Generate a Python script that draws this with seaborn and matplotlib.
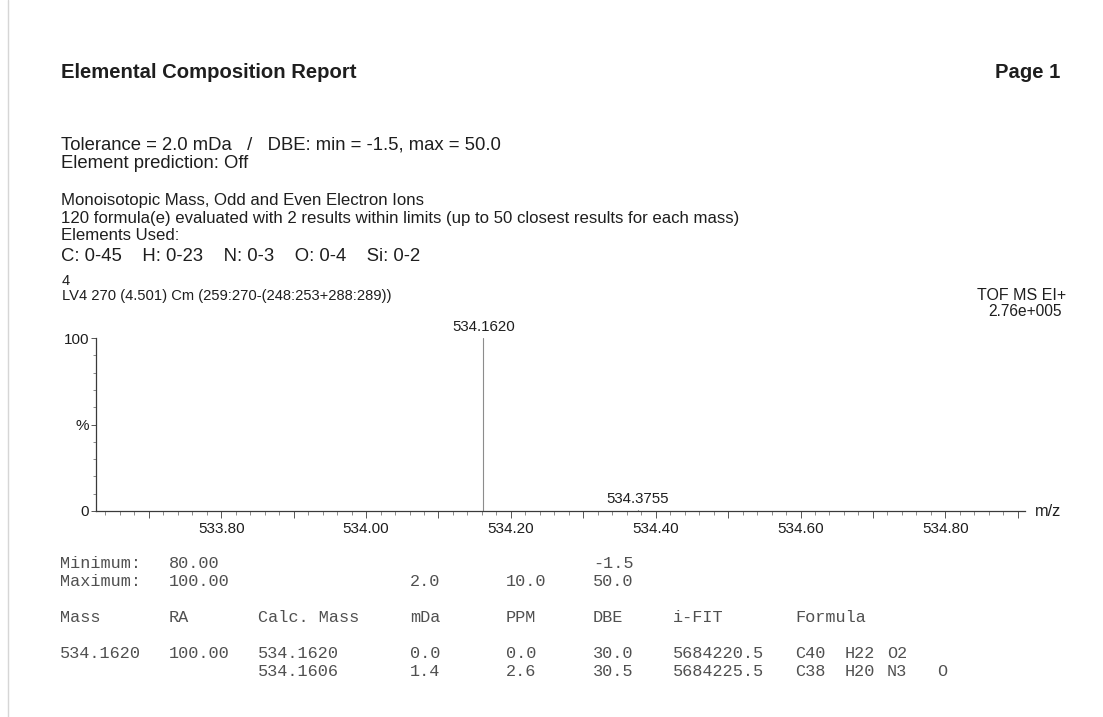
import matplotlib
matplotlib.use("Agg")
import matplotlib.pyplot as plt
from matplotlib.ticker import MultipleLocator, FuncFormatter
from matplotlib.lines import Line2D
import pandas as pd
import seaborn as sns

# ---- spectrum data ----
peak_mz = [534.1620, 534.3755]
peak_intensity = [100.0, 0.4]
peak_labels = ["534.1620", "534.3755"]

# ---- report header ----
title_text = "Elemental Composition Report"
page_text = "Page 1"
header_lines = [
    "Tolerance = 2.0 mDa   /   DBE: min = -1.5, max = 50.0",
    "Element prediction: Off",
]
search_lines = [
    "Monoisotopic Mass, Odd and Even Electron Ions",
    "120 formula(e) evaluated with 2 results within limits (up to 50 closest results for each mass)",
    "Elements Used:",
]
elements_line = "C: 0-45    H: 0-23    N: 0-3    O: 0-4    Si: 0-2"
scan_number = "4"
scan_line = "LV4 270 (4.501) Cm (259:270-(248:253+288:289))"
instrument = "TOF MS EI+"
base_intensity = "2.76e+005"

# ---- results table ----
limit_names = ["Minimum:", "Maximum:"]
limit_ra = ["80.00", "100.00"]
limit_mda = ["", "2.0"]
limit_ppm = ["", "10.0"]
limit_dbe = ["-1.5", "50.0"]
table_header = ["Mass", "RA", "Calc. Mass", "mDa", "PPM", "DBE", "i-FIT", "Formula"]
res_mass = ["534.1620", ""]
res_ra = ["100.00", ""]
res_calc = ["534.1620", "534.1606"]
res_mda = ["0.0", "1.4"]
res_ppm = ["0.0", "2.6"]
res_dbe = ["30.0", "30.5"]
res_ifit = ["5684220.5", "5684225.5"]
res_formula = [["C40", "H22", "O2"], ["C38", "H20", "N3", "O"]]

W, H = 1103, 717
sns.set_theme(style="white")
plt.rcParams["font.family"] = ["Liberation Sans", "DejaVu Sans"]

fig = plt.figure(figsize=(W / 100, H / 100), dpi=100)
fig.patch.set_facecolor("white")


def fx(px):
    return px / W


def fy(py):
    return 1 - py / H


TXT = "#1e1e1e"

# page edge
fig.add_artist(Line2D([fx(8), fx(8)], [0, 1], color="#d6d6d6", lw=1.0))

# header block
fig.text(fx(61), fy(73), title_text, fontsize=14.6, fontweight="bold", color=TXT, va="center")
fig.text(fx(1060), fy(73), page_text, fontsize=14.6, fontweight="bold", color=TXT, va="center", ha="right")
for y, s in zip([145, 163], header_lines):
    fig.text(fx(61), fy(y), s, fontsize=13.3, color=TXT, va="center")
for y, s in zip([201, 218, 235], search_lines):
    fig.text(fx(61), fy(y), s, fontsize=12.1, color=TXT, va="center")
fig.text(fx(61), fy(256), elements_line, fontsize=13.3, color=TXT, va="center")
fig.text(fx(62), fy(281), scan_number, fontsize=10.6, color=TXT, va="center")
fig.text(fx(62), fy(296), scan_line, fontsize=10.6, color=TXT, va="center")
fig.text(fx(1066), fy(296), instrument, fontsize=11.5, color=TXT, va="center", ha="right")
fig.text(fx(1062), fy(312), base_intensity, fontsize=11.2, color=TXT, va="center", ha="right")

# spectrum axes
left, right, top, bottom = 96, 1025, 338, 511
ax = fig.add_axes([fx(left), fy(bottom), fx(right - left), (bottom - top) / H])
ax.set_facecolor("none")

stems = pd.DataFrame(
    {
        "mz": [m for m in peak_mz for _ in range(2)],
        "ri": [v for i in peak_intensity for v in (0.0, i)],
        "peak": [k for k in range(len(peak_mz)) for _ in range(2)],
    }
)
sns.lineplot(
    data=stems, x="mz", y="ri", units="peak", estimator=None,
    color="#8c8c8c", lw=0.8, legend=False, ax=ax,
)
for m, i, lab in zip(peak_mz, peak_intensity, peak_labels):
    ax.annotate(lab, (m, i), xytext=(0, 3), textcoords="offset points",
                ha="center", va="bottom", fontsize=10.8, color=TXT, annotation_clip=False)

ax.set_xlim(533.627, 534.910)
ax.set_ylim(0, 100)
ax.set_xlabel("")
ax.set_ylabel("")

ax.xaxis.set_major_locator(MultipleLocator(0.1))
ax.xaxis.set_minor_locator(MultipleLocator(0.02))
ax.xaxis.set_major_formatter(
    FuncFormatter(lambda v, p: f"{v:.2f}" if round(v * 10) % 2 == 0 else "")
)
ax.set_yticks([0, 50, 100])
ax.set_yticklabels(["0", "%", "100"])
ax.yaxis.set_minor_locator(MultipleLocator(10))

ax.tick_params(axis="x", which="major", direction="out", length=5, width=0.7,
               color="#555555", labelsize=11, labelcolor=TXT, pad=3, bottom=True)
ax.tick_params(axis="x", which="minor", direction="out", length=2.8, width=0.6,
               color="#777777", bottom=True)
ax.tick_params(axis="y", which="major", direction="out", length=3.5, width=0.7,
               color="#555555", labelsize=11, labelcolor=TXT, pad=1.5, left=True)
ax.tick_params(axis="y", which="minor", direction="out", length=2.5, width=0.6,
               color="#777777", left=True)

for side in ("top", "right"):
    ax.spines[side].set_visible(False)
for side in ("left", "bottom"):
    ax.spines[side].set_color("#3a3a3a")
    ax.spines[side].set_linewidth(0.9)

ax.text(1.011, 0.0, "m/z", transform=ax.transAxes, ha="left", va="center",
        fontsize=11.8, color=TXT)

# results table (fixed-width report text)
MONO = ["Liberation Mono", "DejaVu Sans Mono"]
TC = "#505050"
TS = 12.2
cols = {"a": 60, "ra": 169, "calc": 258, "mda": 410, "ppm": 506, "dbe": 593,
        "ifit": 673, "f": [795, 845, 887, 937]}


def tcell(x, y, s):
    if s:
        fig.text(fx(x), fy(y), s, family=MONO, fontsize=TS, color=TC, va="center")


for y, name, ra, mda, ppm, dbe in zip([564, 581], limit_names, limit_ra, limit_mda, limit_ppm, limit_dbe):
    tcell(cols["a"], y, name)
    tcell(cols["ra"], y, ra)
    tcell(cols["mda"], y, mda)
    tcell(cols["ppm"], y, ppm)
    tcell(cols["dbe"], y, dbe)

hx = [cols["a"], cols["ra"], cols["calc"], cols["mda"], cols["ppm"], cols["dbe"], cols["ifit"], cols["f"][0]]
for x, s in zip(hx, table_header):
    tcell(x, 617, s)

for y, m, ra, c, mda, ppm, dbe, ifit, form in zip(
    [654, 671], res_mass, res_ra, res_calc, res_mda, res_ppm, res_dbe, res_ifit, res_formula
):
    tcell(cols["a"], y, m)
    tcell(cols["ra"], y, ra)
    tcell(cols["calc"], y, c)
    tcell(cols["mda"], y, mda)
    tcell(cols["ppm"], y, ppm)
    tcell(cols["dbe"], y, dbe)
    tcell(cols["ifit"], y, ifit)
    for x, el in zip(cols["f"], form):
        tcell(x, y, el)

fig.savefig("out.png", dpi=100, facecolor=fig.get_facecolor())
